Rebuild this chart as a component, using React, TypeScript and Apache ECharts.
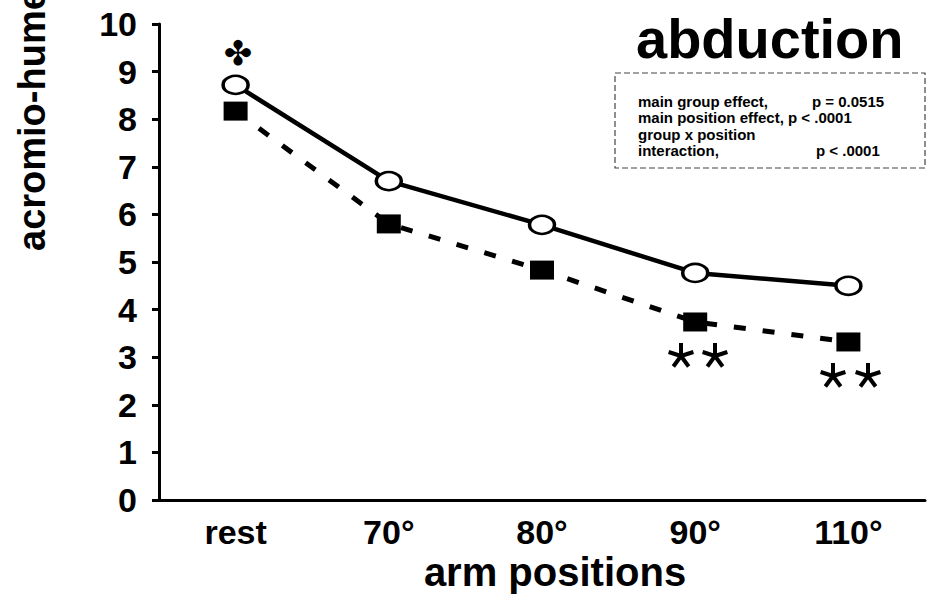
import React, { useEffect, useRef } from 'react';
import * as echarts from 'echarts';

const categories = ['rest', '70°', '80°', '90°', '110°'];
const solidGroup = [8.72, 6.7, 5.78, 4.77, 4.5];
const dashedGroup = [8.17, 5.8, 4.83, 3.74, 3.32];
const yAxisTitle = 'acromio-humeral distance (mm)';
const xAxisTitle = 'arm positions';
const chartTitle = 'abduction';
const statRows = [
  ['main group effect,', 'p = 0.0515'],
  ['main position effect, p < .0001', ''],
  ['group x position', ''],
  ['interaction,', 'p < .0001'],
];

const FONT = '"Liberation Sans", Arial, Helvetica, sans-serif';

function asterisk(cx: number, cy: number, r: number) {
  return {
    type: 'group',
    children: [0, 1, 2, 3, 4].map((i) => {
      const a = -Math.PI / 2 + (i * 2 * Math.PI) / 5;
      return {
        type: 'line',
        shape: { x1: cx, y1: cy, x2: cx + r * Math.cos(a), y2: cy + r * Math.sin(a) },
        style: { stroke: '#000', lineWidth: 4 },
      };
    }),
  };
}

export default function App() {
  const ref = useRef<HTMLDivElement>(null);
  useEffect(() => {
    document.body.style.margin = '0';
    const chart = echarts.init(ref.current!, null, { renderer: 'svg' });
    const statTexts: any[] = [];
    const rowY = [101, 117, 134, 150];
    statRows.forEach((row, i) => {
      statTexts.push({
        type: 'text', x: 638, y: rowY[i],
        style: { text: row[0], font: `bold 15px ${FONT}`, fill: '#000', verticalAlign: 'middle', align: 'left' },
      });
      if (row[1]) {
        statTexts.push({
          type: 'text', x: i === 0 ? 812 : 816, y: rowY[i],
          style: { text: row[1], font: `bold 15px ${FONT}`, fill: '#000', verticalAlign: 'middle', align: 'left' },
        });
      }
    });
    chart.setOption({
      animation: false,
      backgroundColor: '#fff',
      grid: { left: 159, right: 9, top: 24, bottom: 102, containLabel: false },
      xAxis: {
        type: 'category',
        data: categories,
        boundaryGap: true,
        axisLine: { show: true, lineStyle: { color: '#000', width: 3 } },
        axisTick: { show: false },
        axisLabel: { color: '#000', fontFamily: FONT, fontWeight: 'bold', fontSize: 34, margin: 15 },
        splitLine: { show: false },
      },
      yAxis: {
        type: 'value',
        min: 0,
        max: 10,
        interval: 1,
        axisLine: { show: true, lineStyle: { color: '#000', width: 3 } },
        axisTick: { show: true, length: 7, lineStyle: { color: '#000', width: 3 } },
        axisLabel: { color: '#000', fontFamily: FONT, fontWeight: 'bold', fontSize: 34, margin: 22 },
        splitLine: { show: false },
      },
      series: [
        {
          type: 'line',
          data: dashedGroup,
          symbol: 'rect',
          symbolSize: [24, 19],
          lineStyle: { color: '#000', width: 5, type: [12, 17] },
          itemStyle: { color: '#000', borderColor: '#000', borderWidth: 0 },
          z: 2,
        },
        {
          type: 'line',
          data: solidGroup,
          symbol: 'circle',
          symbolSize: [25, 18],
          lineStyle: { color: '#000', width: 4.5, type: 'solid' },
          itemStyle: { color: '#fff', borderColor: '#000', borderWidth: 3 },
          z: 3,
        },
      ],
      graphic: [
        {
          type: 'text', x: 636, y: 38,
          style: { text: chartTitle, font: `bold 56px ${FONT}`, fill: '#000', verticalAlign: 'middle', align: 'left' },
        },
        {
          type: 'rect', shape: { x: 615, y: 73, width: 310, height: 95 },
          style: { fill: '#fff', stroke: '#444', lineWidth: 1.2, lineDash: [6, 3] },
        },
        ...statTexts,
        {
          type: 'text', x: 238, y: 53,
          style: { text: '✤', font: `34px "DejaVu Sans", sans-serif`, fill: '#000', verticalAlign: 'middle', align: 'center' },
        },
        asterisk(681, 356, 13),
        asterisk(715, 356, 13),
        asterisk(833, 376, 13),
        asterisk(868, 376, 13),
        {
          type: 'text', x: 32, y: 251, rotation: Math.PI / 2,
          style: { text: yAxisTitle, font: `bold 38px ${FONT}`, fill: '#000', verticalAlign: 'middle', align: 'left' },
        },
        {
          type: 'text', x: 555, y: 572,
          style: { text: xAxisTitle, font: `bold 40px ${FONT}`, fill: '#000', verticalAlign: 'middle', align: 'center' },
        },
      ],
    });
    return () => chart.dispose();
  }, []);
  return <div ref={ref} style={{ width: 934, height: 602 }} />;
}
